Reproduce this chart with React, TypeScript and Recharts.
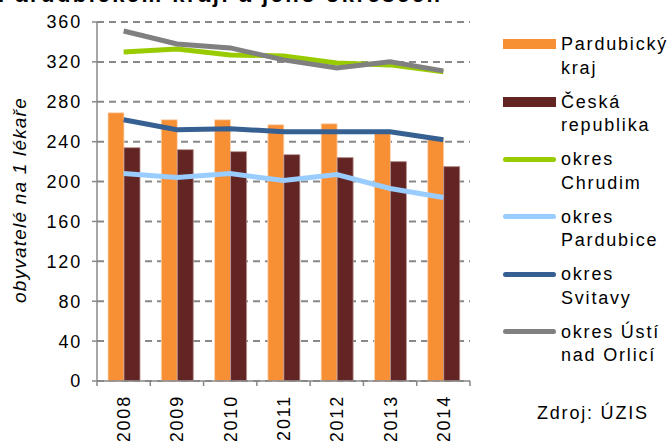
import React from "react";
import {
  ComposedChart,
  Bar,
  Line,
  XAxis,
  YAxis,
  CartesianGrid,
} from "recharts";

const years = ["2008", "2009", "2010", "2011", "2012", "2013", "2014"];
const pardubickyKraj = [269, 262, 262, 257, 258, 250, 243];
const ceskaRepublika = [234, 232, 230, 227, 224, 220, 215];
const okresChrudim = [330, 333, 327, 326, 319, 317, 310];
const okresPardubice = [208, 204, 208, 201, 207, 193, 184];
const okresSvitavy = [262, 252, 253, 250, 250, 250, 242];
const okresUsti = [351, 338, 334, 322, 314, 320, 311];
const yTicks = [0, 40, 80, 120, 160, 200, 240, 280, 320, 360];

const data = years.map((year, i) => ({
  year,
  kraj: pardubickyKraj[i],
  cr: ceskaRepublika[i],
  chrudim: okresChrudim[i],
  pardubice: okresPardubice[i],
  svitavy: okresSvitavy[i],
  usti: okresUsti[i],
}));

const legendItems = [
  { lines: ["Pardubický", "kraj"], color: "#F79035", kind: "bar" },
  { lines: ["Česká", "republika"], color: "#632523", kind: "bar" },
  { lines: ["okres", "Chrudim"], color: "#99CC00", kind: "line" },
  { lines: ["okres", "Pardubice"], color: "#99CCFF", kind: "line" },
  { lines: ["okres", "Svitavy"], color: "#376092", kind: "line" },
  { lines: ["okres Ústí", "nad Orlicí"], color: "#808080", kind: "line" },
];

const W = 670;
const H = 441;
const PLOT_LEFT = 97;
const PLOT_RIGHT = 470;
const PLOT_BOTTOM = 381;
const STEP = (PLOT_RIGHT - PLOT_LEFT) / years.length;
const FONT = "'Liberation Sans', Arial, sans-serif";
const AXIS = "#888888";

const YearTick = (props: any) => {
  const { x, payload, index } = props;
  return (
    <g>
      <line x1={x - STEP / 2} x2={x - STEP / 2} y1={PLOT_BOTTOM} y2={PLOT_BOTTOM + 5} stroke={AXIS} strokeWidth={1.5} />
      {index === years.length - 1 && (
        <line x1={x + STEP / 2} x2={x + STEP / 2} y1={PLOT_BOTTOM} y2={PLOT_BOTTOM + 5} stroke={AXIS} strokeWidth={1.5} />
      )}
      <text
        transform={`translate(${x + 6.5},${PLOT_BOTTOM + 14}) rotate(-90)`}
        textAnchor="end"
        fontSize={18}
        letterSpacing={1.8}
        fill="#000"
        fontFamily={FONT}
      >
        {payload.value}
      </text>
    </g>
  );
};

export default function App() {
  return (
    <div
      style={{
        position: "fixed",
        top: 0,
        left: 0,
        width: W,
        height: H,
        background: "#fff",
        fontFamily: FONT,
        overflow: "hidden",
      }}
    >
      <div
        style={{
          position: "absolute",
          left: -2,
          top: -18,
          fontSize: 22,
          fontWeight: "bold",
          letterSpacing: 2.5,
          whiteSpace: "nowrap",
        }}
      >
        Pardubickém kraji a jeho okresech
      </div>

      <ComposedChart
        width={W}
        height={H}
        data={data}
        margin={{ top: 22, right: W - PLOT_RIGHT, bottom: 0, left: 0 }}
        barGap={0}
        barSize={16}
      >
        <CartesianGrid vertical={false} stroke={AXIS} strokeWidth={2} strokeDasharray="7 5" />
        <XAxis
          dataKey="year"
          height={H - PLOT_BOTTOM}
          stroke={AXIS}
          strokeWidth={1.5}
          tickLine={false}
          interval={0}
          tick={<YearTick />}
        />
        <YAxis
          width={PLOT_LEFT}
          domain={[0, 360]}
          ticks={yTicks}
          stroke={AXIS}
          strokeWidth={1.5}
          tickSize={5}
          tickMargin={10}
          tick={{ fill: "#000", fontSize: 18, letterSpacing: 1.8, fontFamily: FONT }}
          label={{
            content: () => (
              <text
                transform="translate(26,200) rotate(-90)"
                textAnchor="middle"
                fontSize={19}
                fontStyle="italic"
                letterSpacing={1.2}
                fill="#000"
                fontFamily={FONT}
              >
                obyvatelé na 1 lékaře
              </text>
            ),
          }}
        />
        <Bar dataKey="kraj" fill="#F79035" stroke="#FCD9BC" strokeWidth={0.8} isAnimationActive={false} />
        <Bar dataKey="cr" fill="#632523" stroke="#B89290" strokeWidth={0.8} isAnimationActive={false} />
        <Line dataKey="chrudim" stroke="#99CC00" strokeWidth={5} dot={false} isAnimationActive={false} />
        <Line dataKey="pardubice" stroke="#99CCFF" strokeWidth={5} dot={false} isAnimationActive={false} />
        <Line dataKey="svitavy" stroke="#376092" strokeWidth={5} dot={false} isAnimationActive={false} />
        <Line dataKey="usti" stroke="#808080" strokeWidth={5} dot={false} isAnimationActive={false} />
      </ComposedChart>

      {legendItems.map((item, i) => {
        const cy = 44 + i * 57.5;
        return (
          <div key={i}>
            {item.kind === "bar" ? (
              <div style={{ position: "absolute", left: 503, top: cy - 5, width: 53, height: 10, background: item.color }} />
            ) : (
              <div style={{ position: "absolute", left: 503, top: cy - 2.5, width: 53, height: 5, borderRadius: 3, background: item.color }} />
            )}
            {item.lines.map((t, j) => (
              <div
                key={j}
                style={{
                  position: "absolute",
                  left: 561,
                  top: cy - 11 + j * 23.5,
                  height: 22,
                  lineHeight: "22px",
                  fontSize: 18,
                  letterSpacing: 1.8,
                  whiteSpace: "nowrap",
                }}
              >
                {t}
              </div>
            ))}
          </div>
        );
      })}
      <div
        style={{
          position: "absolute",
          left: 537,
          top: 402,
          lineHeight: "22px",
          fontSize: 18,
          letterSpacing: 1.8,
          whiteSpace: "nowrap",
        }}
      >
        Zdroj: ÚZIS
      </div>
    </div>
  );
}
